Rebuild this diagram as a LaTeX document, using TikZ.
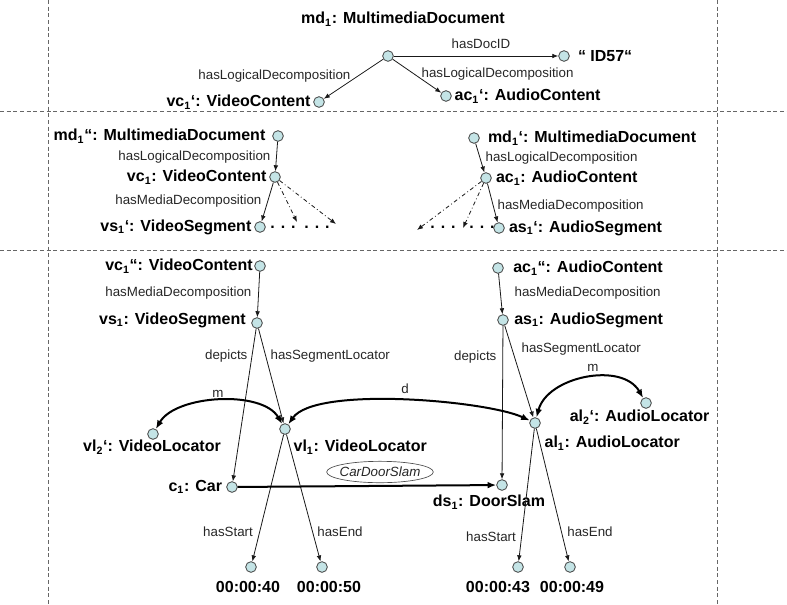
\documentclass[tikz,border=0pt]{standalone}
\usepackage{fontspec}
\setmainfont{Liberation Sans}
\usepackage{tikz}
\usetikzlibrary{arrows.meta,positioning,shapes}
\definecolor{resfill}{RGB}{196,228,230}
\tikzstyle{resource}=[
  circle,
  draw=black!75,
  fill=resfill,
  inner sep=0pt,
  minimum size=8pt,
  line width=0.6pt,
]
\tikzstyle{instance}=[
  font={\fontsize{12}{14}\selectfont\bfseries},
  inner sep=1pt,
]
\tikzstyle{property}=[
  font={\fontsize{10}{12}\selectfont},
  inner sep=1pt,
  text=black!85,
]
\tikzstyle{arrow}=[
  draw=black!90,
  line width=0.6pt,
]
\tikzstyle{relation}=[
  draw=black,
  line width=1.5pt,
]
\tikzstyle{separator}=[
  draw=black!60,
  line width=0.6pt,
  dash pattern=on 3pt off 2pt,
]
\tikzset{
  >={Latex[length=4.5pt,width=3.5pt]},
  bigtip/.tip={Latex[length=6.5pt,width=5pt]},
}
\begin{document}
\begin{tikzpicture}[x=0.75pt,y=-0.75pt]
      \useasboundingbox (0,0) rectangle (787,604);
      \draw [separator] (48,0) -- (48,604);
      \draw [separator] (717,0) -- (717,604);
      \draw [separator] (0,111) -- (787,111);
      \draw [separator] (0,250) -- (787,250);

      \node (mdtop) [resource] at (388,56) {};
      \node (idtop) [resource] at (564,56) {};
      \node (vctop) [resource] at (319,102) {};
      \node (actop) [resource] at (446,96) {};
      \node (mdtoptext) [instance] at (403,19) {md\textsubscript{1}: MultimediaDocument};
      \node (idtoptext) [instance, right=5pt of idtop] {“ ID57“};
      \node (vctoptext) [instance, left=1pt of vctop] {vc\textsubscript{1}‘: VideoContent};
      \node (actoptext) [instance, right=1pt of actop] {ac\textsubscript{1}‘: AudioContent};
      \node (docid) [property] at (481,44) {hasDocID};
      \node (logleft) [property, anchor=east] at (352,76) {hasLogicalDecomposition};
      \node (logright) [property, anchor=west] at (420,74) {hasLogicalDecomposition};
      \draw [->, arrow] (mdtop) -- (idtop);
      \draw [->, arrow] (mdtop) -- (vctop);
      \draw [->, arrow] (mdtop) -- (actop);

      \node (mdvid) [resource] at (278,136) {};
      \node (vcvid) [resource] at (275,177) {};
      \node (vsvid) [resource] at (260,227) {};
      \node (mdvidtext) [instance, left=4pt of mdvid] {md\textsubscript{1}“: MultimediaDocument};
      \node (vcvidtext) [instance, left=1pt of vcvid] {vc\textsubscript{1}: VideoContent};
      \node (vsvidtext) [instance, left=1pt of vsvid] {vs\textsubscript{1}‘: VideoSegment};
      \node (logvid) [property, anchor=east] at (272,157) {hasLogicalDecomposition};
      \node (medvid) [property, anchor=east] at (263,201) {hasMediaDecomposition};
      \node (viddotsa) [instance] at (283,227) {. . .};
      \node (viddotsb) [instance] at (317,227) {. . .};
      \coordinate (vidnext) at (297,222);
      \coordinate (vidlast) at (336,224);
      \draw [->, arrow] (mdvid) -- (vcvid);
      \draw [->, arrow] (vcvid) -- (vsvid);
      \draw [->, arrow, dashdotted] (vcvid) -- (vidnext);
      \draw [->, arrow, dashdotted] (vcvid) -- (vidlast);

      \node (mdaud) [resource] at (474,138) {};
      \node (acaud) [resource] at (486,178) {};
      \node (asaud) [resource] at (499,228) {};
      \node (mdaudtext) [instance, right=5pt of mdaud] {md\textsubscript{1}‘: MultimediaDocument};
      \node (acaudtext) [instance, right=2pt of acaud] {ac\textsubscript{1}: AudioContent};
      \node (asaudtext) [instance, right=2pt of asaud] {as\textsubscript{1}‘: AudioSegment};
      \node (logaud) [property, anchor=west] at (484,158) {hasLogicalDecomposition};
      \node (medaud) [property, anchor=west] at (496,206) {hasMediaDecomposition};
      \node (auddotsa) [instance] at (443,227) {. . .};
      \node (auddotsb) [instance] at (482,227) {. . .};
      \coordinate (audnext) at (463,228);
      \coordinate (audlast) at (417,230);
      \draw [->, arrow] (mdaud) -- (acaud);
      \draw [->, arrow] (acaud) -- (asaud);
      \draw [->, arrow, dashdotted] (acaud) -- (audnext);
      \draw [->, arrow, dashdotted] (acaud) -- (audlast);

      \node (vc) [resource] at (260,266) {};
      \node (vs) [resource] at (257,323) {};
      \node (vl) [resource] at (285,429) {};
      \node (vltwo) [resource] at (153,434) {};
      \node (car) [resource] at (232,487) {};
      \node (vstart) [resource] at (251,567) {};
      \node (vend) [resource] at (322,567) {};
      \node (vctext) [instance, left=0pt of vc] {vc\textsubscript{1}“: VideoContent};
      \node (vstext) [instance, left=3pt of vs, yshift=2pt] {vs\textsubscript{1}: VideoSegment};
      \node (vltext) [instance, anchor=west] at (292,447) {vl\textsubscript{1}: VideoLocator};
      \node (vltwotext) [instance] at (152,447) {vl\textsubscript{2}‘: VideoLocator};
      \node (cartext) [instance, left=2pt of car] {c\textsubscript{1}: Car};
      \node (vstarttext) [instance] at (248,587) {00:00:40};
      \node (vendtext) [instance] at (329,587) {00:00:50};
      \node (medvc) [property, anchor=east] at (253,293) {hasMediaDecomposition};
      \node (depvs) [property, anchor=east] at (249,356) {depicts};
      \node (locvs) [property, anchor=west] at (269,356) {hasSegmentLocator};
      \node (mvid) [property] at (218,394) {m};
      \node (startvl) [property] at (228,532) {hasStart};
      \node (endvl) [property] at (340,532) {hasEnd};

      \node (ac) [resource] at (498,268) {};
      \node (as) [resource] at (503,320) {};
      \node (al) [resource] at (535,423) {};
      \node (altwo) [resource] at (646,403) {};
      \node (slam) [resource] at (502,485) {};
      \node (astart) [resource] at (518,567) {};
      \node (aend) [resource] at (570,567) {};
      \node (actext) [instance, right=6pt of ac] {ac\textsubscript{1}“: AudioContent};
      \node (astext) [instance, right=3pt of as] {as\textsubscript{1}: AudioSegment};
      \node (altext) [instance, anchor=west] at (543,443) {al\textsubscript{1}: AudioLocator};
      \node (altwotext) [instance, anchor=east] at (711,417) {al\textsubscript{2}‘: AudioLocator};
      \node (slamtext) [instance] at (489,502) {ds\textsubscript{1}: DoorSlam};
      \node (astarttext) [instance] at (498,587) {00:00:43};
      \node (aendtext) [instance] at (572,587) {00:00:49};
      \node (medac) [property, anchor=west] at (513,293) {hasMediaDecomposition};
      \node (depas) [property, anchor=east] at (498,357) {depicts};
      \node (locas) [property, anchor=west] at (520,349) {hasSegmentLocator};
      \node (maud) [property] at (593,368) {m};
      \node (dlink) [property] at (405,389) {d};
      \node (startal) [property] at (491,537) {hasStart};
      \node (endal) [property] at (590,532) {hasEnd};
      \node (event) [property, ellipse, draw=black!70, line width=0.5pt, inner xsep=-2pt, inner ysep=2pt, font={\fontsize{10}{12}\selectfont\itshape}] at (380,472) {CarDoorSlam};

      \draw [->, arrow] (vc) -- (vs);
      \draw [->, arrow] (vs) -- (car);
      \draw [->, arrow] (vs) -- (vl);
      \draw [->, arrow] (vl) -- (vstart);
      \draw [->, arrow] (vl) -- (vend);
      \draw [->, arrow] (ac) -- (as);
      \draw [->, arrow] (as) -- (slam);
      \draw [->, arrow] (as) -- (al);
      \draw [->, arrow] (al) -- (astart);
      \draw [->, arrow] (al) -- (aend);
      \draw [relation, -bigtip] (car) -- (slam);
      \draw [relation, bigtip-bigtip] (vl) to[out=120,in=60,looseness=0.8] (vltwo);
      \draw [relation, bigtip-bigtip] (vl) to[out=55,in=155,looseness=0.5] (al);
      \draw [relation, bigtip-bigtip] (al) to[out=75,in=120] (altwo);
    \end{tikzpicture}
\end{document}
